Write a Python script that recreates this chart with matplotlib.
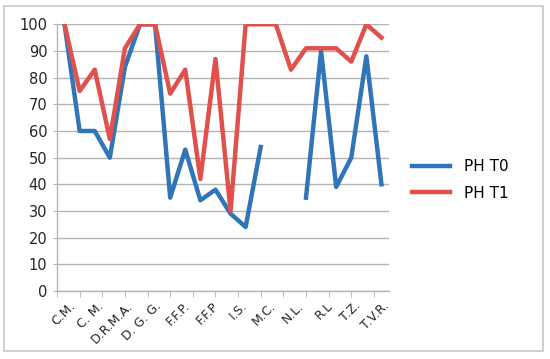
import matplotlib

matplotlib.use("Agg")
import matplotlib.pyplot as plt
import numpy as np
from matplotlib.patches import Rectangle

BLUE = "#2f75b8"
RED = "#e0504d"
GRID = "#b3b3b3"
TEXT = "#262626"

# values, one per category (nan = gap in the series)
ph_t0 = [100, 60, 60, 50, 84, 100, 100, 35, 53, 34, 38, 29, 24, 54,
         np.nan, np.nan, 35, 90, 39, 50, 88, 40]
ph_t1 = [100, 75, 83, 57, 91, 100, 100, 74, 83, 42, 87, 30, 100, 100,
         100, 83, 91, 91, 91, 86, 100, 95]
series_names = ["PH T0", "PH T1"]
tick_labels = ["C.M.", "C. M.", "D.R.M.A.", "D. G. G.", "F.F.P.", "F.F.P",
               "I.S.", "M.C.", "N.L.", "R.L", "T.Z.", "T.V.R."]
y_ticks = list(range(0, 101, 10))

fig = plt.figure(figsize=(5.5, 3.59), dpi=100)
fig.patches.append(Rectangle((4 / 550, 8 / 359), 539 / 550, 345 / 359,
                             transform=fig.transFigure, fill=False,
                             edgecolor="#c8c8c8", linewidth=1.2))

ax = fig.add_axes([57 / 550, 68 / 359, 332 / 550, 266.7 / 359])
x = np.arange(len(ph_t1))
ax.plot(x, ph_t0, color=BLUE, linewidth=3.2, label=series_names[0])
ax.plot(x, ph_t1, color=RED, linewidth=3.2, label=series_names[1])

ax.set_xlim(-0.5, len(x) - 0.5)
ax.set_ylim(0, 100)
ax.set_yticks(y_ticks)
ax.yaxis.grid(True, color=GRID, linewidth=1)
ax.set_axisbelow(True)
for s in ["top", "right"]:
    ax.spines[s].set_visible(False)
for s in ["left", "bottom"]:
    ax.spines[s].set_color(GRID)
    ax.spines[s].set_linewidth(1)
ax.tick_params(axis="y", length=3, color=GRID, labelsize=10.5, labelcolor=TEXT, pad=4)

# labels (no marks) and tick marks (no labels) sit on different positions
ax.set_xticks(np.linspace(0.3, 21.1, len(tick_labels)))
ax.set_xticklabels(tick_labels, rotation=45, ha="right", rotation_mode="anchor",
                   fontsize=9, color=TEXT)
ax.tick_params(axis="x", which="major", length=0, pad=6)
ax.set_xticks(np.arange(-0.5, 21.0, 1.5), minor=True)
ax.tick_params(axis="x", which="minor", length=4, color=GRID)

fig.legend(loc="center left", bbox_to_anchor=(412 / 550, 179 / 359),
           frameon=False, fontsize=11, handlelength=2.5, handletextpad=0.9,
           labelspacing=0.75, borderpad=0, borderaxespad=0)

fig.savefig("out.png", dpi=100)
